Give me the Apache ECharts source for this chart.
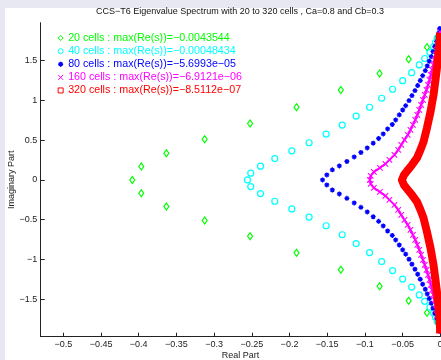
<!DOCTYPE html>
<html>
<head>
<meta charset="utf-8">
<script src="https://cdn.jsdelivr.net/npm/echarts@6/dist/echarts.min.js"></script>
<style>
html,body{margin:0;padding:0;background:#e8e8f2;}
#chart{width:441px;height:360px;}
</style>
</head>
<body>
<div id="chart"></div>
<script>
// ---- data (upper half of each spectrum; lower half is the complex conjugate) ----
const seriesNames = [
  '20 cells : max(Re(s))=\u22120.0043544',
  '40 cells : max(Re(s))=\u22120.00048434',
  '80 cells : max(Re(s))=\u22125.6993e\u221205',
  '160 cells : max(Re(s))=\u22126.9121e\u221206',
  '320 cells : max(Re(s))=\u22128.5112e\u221207'
];
const greenRe = [-0.4085, -0.3966, -0.3633, -0.3125, -0.2523, -0.1907, -0.1319, -0.0805, -0.0420, -0.0177, -0.0044];
const greenIm = [0, 0.167, 0.335, 0.511, 0.709, 0.914, 1.128, 1.336, 1.517, 1.668, 1.785];

const cyanRe = [-0.2558, -0.2514, -0.2385, -0.2195, -0.1970, -0.1740, -0.1514, -0.1301, -0.1116, -0.0938, -0.0778, -0.0632, -0.0499, -0.0380, -0.0279, -0.0207, -0.0137, -0.0090, -0.0064, -0.0040, -0.0005];
const cyanIm = [0, 0.084, 0.172, 0.268, 0.365, 0.467, 0.576, 0.689, 0.800, 0.913, 1.026, 1.139, 1.246, 1.347, 1.445, 1.525, 1.600, 1.672, 1.725, 1.780, 1.840];

const blueRe = [-0.1562, -0.1505, -0.1432, -0.1339, -0.1239, -0.1142, -0.1053, -0.0969, -0.0890, -0.0818, -0.0757, -0.0699, -0.0637, -0.0592, -0.0544, -0.0499, -0.0459, -0.0415, -0.0376, -0.0336, -0.0300, -0.0266, -0.0234, -0.0199, -0.0173, -0.0146, -0.0120, -0.0097, -0.0074, -0.0048, -0.0028, -0.0013, -0.0007];
const blueIm = [0, 0.063, 0.126, 0.176, 0.232, 0.289, 0.345, 0.402, 0.462, 0.521, 0.578, 0.641, 0.697, 0.754, 0.817, 0.879, 0.933, 0.996, 1.059, 1.122, 1.185, 1.248, 1.310, 1.373, 1.432, 1.491, 1.549, 1.612, 1.675, 1.737, 1.796, 1.853, 1.903];

const magentaRe = [-0.0934, -0.0923, -0.0881, -0.0801, -0.0728, -0.0675, -0.0608, -0.0558, -0.0518, -0.0475, -0.0432, -0.0396, -0.0363, -0.0332, -0.0305, -0.0279, -0.0254, -0.0230, -0.0206, -0.0183, -0.0163, -0.0143, -0.0126, -0.0110, -0.0093, -0.0077, -0.0061, -0.0046, -0.0033, -0.0020, -0.0009, -0.0004];
const magentaIm = [0, 0.050, 0.101, 0.151, 0.201, 0.251, 0.314, 0.377, 0.440, 0.503, 0.565, 0.628, 0.691, 0.754, 0.817, 0.879, 0.942, 1.005, 1.068, 1.131, 1.193, 1.256, 1.319, 1.382, 1.445, 1.508, 1.570, 1.633, 1.696, 1.759, 1.822, 1.859];

const redRe = [-0.0509, -0.0482, -0.0429, -0.0376, -0.0309, -0.0263, -0.0223, -0.0177, -0.0130, -0.0090, -0.0064, -0.0040, -0.0020, -0.0004];
const redIm = [0, 0.063, 0.126, 0.188, 0.276, 0.377, 0.477, 0.653, 0.854, 1.068, 1.256, 1.445, 1.633, 1.847];
const redTailRe = [-0.0002];
const redTailIm = [-1.930];

const xTickValues = [-0.5, -0.45, -0.4, -0.35, -0.3, -0.25, -0.2, -0.15, -0.1, -0.05, 0];
const yTickValues = [-1.5, -1, -0.5, 0, 0.5, 1, 1.5];

// ---- helpers ----
function conjPoints(re, im) {
  const pts = [];
  for (let i = 0; i < re.length; i++) {
    pts.push([re[i], im[i]]);
    if (im[i] !== 0) pts.push([re[i], -im[i]]);
  }
  return pts;
}
function curvePoints(re, im, tailRe, tailIm) {
  const pts = [];
  for (let i = re.length - 1; i >= 0; i--) pts.push([re[i], im[i]]);
  for (let i = 1; i < re.length; i++) pts.push([re[i], -im[i]]);
  if (tailRe) for (let i = 0; i < tailRe.length; i++) pts.push([tailRe[i], tailIm[i]]);
  return pts;
}
const fmt = v => (Math.round(v * 100) / 100).toString().replace('-', '\u2212');
const FONT = "'Liberation Sans', Arial, Helvetica, sans-serif";
const G = '#00ff00', C = '#00ffff', B = '#0000ff', M = '#ff00ff', R = '#ff0000';
const starPath = 'path://M5,0L5,10M0,5L10,5M1.5,1.5L8.5,8.5M8.5,1.5L1.5,8.5';
const xPath = 'path://M0,0L10,10M10,0L0,10';

const chart = echarts.init(document.getElementById('chart'), null, {renderer: 'canvas'});
chart.setOption({
  animation: false,
  backgroundColor: '#e8e8f2',
  graphic: [{type: 'rect', z: -10, silent: true, shape: {x: 5, y: 8, width: 436, height: 352}, style: {fill: '#ffffff'}}],
  title: {
    text: 'CCS\u2212T6 Eigenvalue Spectrum with 20 to 320 cells , Ca=0.8 and Cb=0.3',
    left: 240, top: 7, padding: 0, textAlign: 'center',
    textStyle: {fontFamily: FONT, fontSize: 9, fontWeight: 'normal', color: '#111'}
  },
  legend: {
    orient: 'vertical', left: 57.5, top: 31.5, padding: 0, itemGap: 0,
    itemWidth: 5, itemHeight: 5, selectedMode: false,
    textStyle: {fontFamily: FONT, fontSize: 10.7, lineHeight: 13.1},
    data: [
      {name: seriesNames[0], icon: 'diamond', textStyle: {color: G}, itemStyle: {color: 'rgba(0,0,0,0)', borderColor: G, borderWidth: 1}},
      {name: seriesNames[1], icon: 'circle', textStyle: {color: C}, itemStyle: {color: 'rgba(0,0,0,0)', borderColor: C, borderWidth: 1}},
      {name: seriesNames[2], icon: starPath, textStyle: {color: B}, itemStyle: {color: B, borderColor: B, borderWidth: 1.3}},
      {name: seriesNames[3], icon: xPath, textStyle: {color: M}, itemStyle: {color: M, borderColor: M, borderWidth: 1}, lineStyle: {opacity: 0}},
      {name: seriesNames[4], icon: 'rect', textStyle: {color: R}, itemStyle: {color: 'rgba(0,0,0,0)', borderColor: R, borderWidth: 1}, lineStyle: {opacity: 0}}
    ]
  },
  grid: {left: 40.7, top: 22.7, right: 0.7, bottom: 23.3, containLabel: false, outerBoundsMode: 'none'},
  xAxis: {
    type: 'value', min: -0.53, max: 0,
    name: 'Real Part', nameLocation: 'middle', nameGap: 14, nameMoveOverlap: false,
    nameTextStyle: {fontFamily: FONT, fontSize: 9, color: '#222'},
    axisLine: {show: true, onZero: false, lineStyle: {color: '#222', width: 1}},
    axisTick: {show: true, inside: true, length: 4, customValues: xTickValues, lineStyle: {color: '#222'}},
    axisLabel: {show: true, margin: 3, customValues: xTickValues, formatter: fmt, fontFamily: FONT, fontSize: 9, color: '#222'},
    splitLine: {show: false}
  },
  yAxis: {
    type: 'value', min: -1.97, max: 1.975,
    name: 'Imaginary Part', nameLocation: 'middle', nameGap: 24.5, nameMoveOverlap: false,
    nameTextStyle: {fontFamily: FONT, fontSize: 9, color: '#222'},
    axisLine: {show: true, onZero: false, lineStyle: {color: '#222', width: 1}},
    axisTick: {show: true, inside: true, length: 4, customValues: yTickValues, lineStyle: {color: '#222'}},
    axisLabel: {show: true, margin: 3.5, customValues: yTickValues, formatter: fmt, fontFamily: FONT, fontSize: 9, color: '#222'},
    splitLine: {show: false}
  },
  series: [
    {
      name: seriesNames[0], type: 'scatter', z: 2,
      symbol: 'diamond', symbolSize: [5, 7],
      itemStyle: {color: 'rgba(0,0,0,0)', borderColor: G, borderWidth: 1.2, opacity: 1},
      data: conjPoints(greenRe, greenIm)
    },
    {
      name: seriesNames[1], type: 'scatter', z: 3,
      symbol: 'circle', symbolSize: 6,
      itemStyle: {color: 'rgba(0,0,0,0)', borderColor: C, borderWidth: 1.2, opacity: 1},
      data: conjPoints(cyanRe, cyanIm)
    },
    {
      name: seriesNames[2], type: 'scatter', z: 4,
      symbol: starPath, symbolSize: 5,
      itemStyle: {color: B, borderColor: B, borderWidth: 1.3, opacity: 1},
      data: conjPoints(blueRe, blueIm)
    },
    {
      name: seriesNames[3], type: 'line', z: 5,
      symbol: xPath, symbolSize: 5.5, showSymbol: true, showAllSymbol: true,
      itemStyle: {color: M, borderColor: M, borderWidth: 1.1},
      lineStyle: {color: M, width: 2},
      data: curvePoints(magentaRe, magentaIm)
    },
    {
      name: seriesNames[4], type: 'line', z: 6,
      symbol: 'none', showSymbol: false,
      itemStyle: {color: R},
      lineStyle: {color: R, width: 8, cap: 'butt', join: 'round'},
      data: curvePoints(redRe, redIm, redTailRe, redTailIm)
    }
  ]
});
</script>
</body>
</html>
